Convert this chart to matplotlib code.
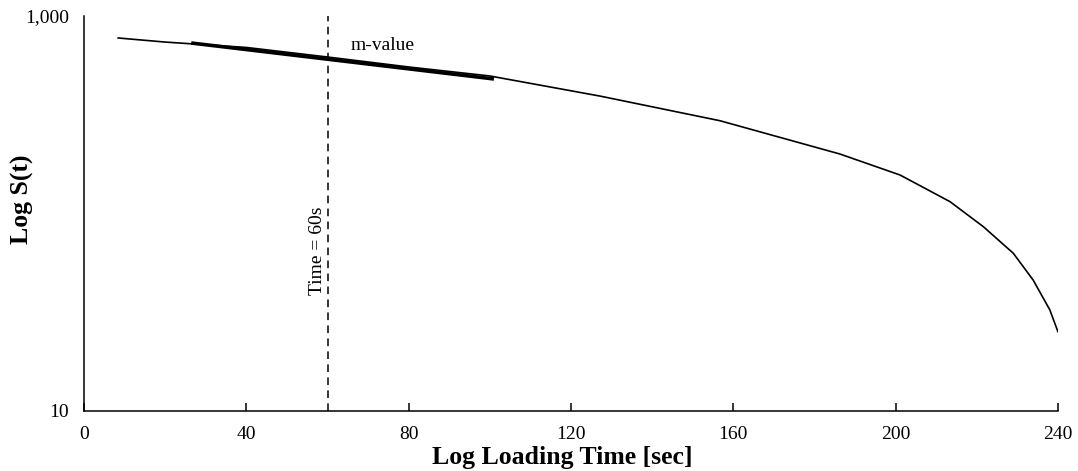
import matplotlib.pyplot as plt
import numpy as np

plt.rcParams['font.family'] = ['Liberation Serif', 'DejaVu Serif']

# S(t) curve
time_sec = [8.4, 20, 40, 60, 80, 100, 127.2, 156.7, 186.3, 201.1, 213.4,
            221.6, 229.0, 233.9, 238.0, 240.0]
stiffness = [774, 738, 693, 620, 552, 497, 393, 295, 200, 156.6, 114.8,
             85.8, 62.9, 46.0, 32.5, 25.2]

# tangent used for the m-value
tangent_time = [26.4, 101.0]
tangent_s = [730, 480]

ref_time = 60
x_ticks = [0, 40, 80, 120, 160, 200, 240]
y_ticks = [10, 1000]
y_tick_labels = ['10', '1,000']

fig = plt.figure(figsize=(10.78, 4.71), dpi=100)
ax = fig.add_axes([0.078, 0.1274, 0.9034, 0.8386])

ax.plot(time_sec, stiffness, color='black', lw=1.2)
ax.plot(tangent_time, tangent_s, color='black', lw=2.6, solid_capstyle='butt')
ax.axvline(ref_time, color='black', lw=1.1, ls=(0, (5, 3.5)))

ax.set_yscale('log')
ax.set_xlim(0, 240)
ax.set_ylim(10, 1000)
ax.set_xticks(x_ticks)
ax.set_yticks(y_ticks)
ax.set_yticklabels(y_tick_labels)
ax.yaxis.set_minor_locator(plt.NullLocator())
ax.tick_params(axis='x', direction='in', length=6, width=1.1, labelsize=14, pad=11)
ax.tick_params(axis='y', length=0, labelsize=14, pad=11)

for side in ['top', 'right']:
    ax.spines[side].set_visible(False)
for side in ['left', 'bottom']:
    ax.spines[side].set_linewidth(1.1)

ax.set_xlabel('Log Loading Time [sec]', fontsize=18.5, fontweight='bold')
ax.xaxis.set_label_coords(0.491, -0.088)
ax.set_ylabel('Log S(t)', fontsize=18.5, fontweight='bold')
ax.yaxis.set_label_coords(-0.0513, 0.537)

ax.text(57.6, 64.6, 'Time = 60s', rotation=90, fontsize=14,
        ha='center', va='center')
ax.text(65.8, 705, 'm-value', fontsize=14, ha='left', va='center')

fig.savefig('out.png', dpi=100)
